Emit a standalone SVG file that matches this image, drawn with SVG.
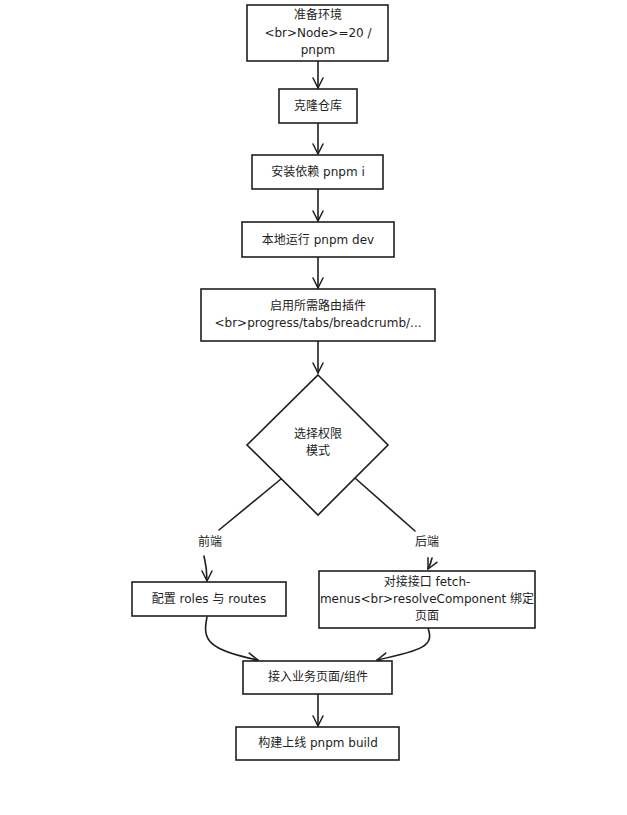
<svg xmlns="http://www.w3.org/2000/svg" width="627" height="815" viewBox="0 0 627 815">
<defs>
<marker id="arr" viewBox="0 0 12 12" refX="11" refY="6" markerWidth="12" markerHeight="12" markerUnits="userSpaceOnUse" orient="auto">
<path d="M1,1 L11,6 L1,11" fill="none" stroke="#1e1e1e" stroke-width="1.5" stroke-linecap="round" stroke-linejoin="round"/>
</marker>
</defs>
<style>
.box{fill:#ffffff;stroke:#1e1e1e;stroke-width:1.6}
.t{font-family:"DejaVu Sans","Noto Sans CJK SC",sans-serif;font-size:12px;fill:#1e1e1e;text-anchor:middle;dominant-baseline:central}
.c{fill:none;stroke:#1e1e1e;stroke-width:1.6;stroke-linecap:round}
</style>
<rect width="627" height="815" fill="#ffffff"/>
<g id="connectors">
<path class="c" d="M318,61 L318,88" marker-end="url(#arr)"/>
<path class="c" d="M318,123 L318,154" marker-end="url(#arr)"/>
<path class="c" d="M318,189 L318,221" marker-end="url(#arr)"/>
<path class="c" d="M318,257 L318,288" marker-end="url(#arr)"/>
<path class="c" d="M318,341 L318,373" marker-end="url(#arr)"/>
<path class="c" d="M281,479 L219,530"/>
<path class="c" d="M204,556 Q207,568 207,581" marker-end="url(#arr)"/>
<path class="c" d="M355,478 L415,531"/>
<path class="c" d="M432,558 Q431,563 428,569" marker-end="url(#arr)"/>
<path class="c" d="M207,617 C202,640 208,650 258,660" marker-end="url(#arr)"/>
<path class="c" d="M428,628 C434,645 425,650 377,660" marker-end="url(#arr)"/>
<path class="c" d="M318,694 L318,726" marker-end="url(#arr)"/>
<text class="t" x="210" y="542">前端</text>
<text class="t" x="427" y="542">后端</text>
</g>
<g id="n1">
<rect class="box" x="247" y="5" width="141" height="56"/>
<text class="t" x="318" y="15">准备环境</text>
<text class="t" x="318" y="33">&lt;br&gt;Node&gt;=20 /</text>
<text class="t" x="318" y="50">pnpm</text>
</g>
<g id="n2">
<rect class="box" x="279" y="89" width="78" height="34"/>
<text class="t" x="318" y="106">克隆仓库</text>
</g>
<g id="n3">
<rect class="box" x="252" y="155" width="131" height="34"/>
<text class="t" x="318" y="172">安装依赖 pnpm i</text>
</g>
<g id="n4">
<rect class="box" x="242" y="222" width="152" height="35"/>
<text class="t" x="318" y="240">本地运行 pnpm dev</text>
</g>
<g id="n5">
<rect class="box" x="201" y="289" width="234" height="52"/>
<text class="t" x="318" y="306">启用所需路由插件</text>
<text class="t" x="318" y="323">&lt;br&gt;progress/tabs/breadcrumb/...</text>
</g>
<g id="n6">
<polygon class="box" points="318,375 388,445 318,515 247,445"/>
<text class="t" x="318" y="434">选择权限</text>
<text class="t" x="318" y="451">模式</text>
</g>
<g id="n7">
<rect class="box" x="132" y="582" width="154" height="34"/>
<text class="t" x="209" y="599">配置 roles 与 routes</text>
</g>
<g id="n8">
<rect class="box" x="319" y="571" width="216" height="57"/>
<text class="t" x="427" y="582">对接接口 fetch-</text>
<text class="t" x="427" y="599">menus&lt;br&gt;resolveComponent 绑定</text>
<text class="t" x="427" y="616">页面</text>
</g>
<g id="n9">
<rect class="box" x="243" y="661" width="149" height="33"/>
<text class="t" x="318" y="677">接入业务页面/组件</text>
</g>
<g id="n10">
<rect class="box" x="236" y="727" width="163" height="33"/>
<text class="t" x="318" y="743">构建上线 pnpm build</text>
</g>
</svg>
